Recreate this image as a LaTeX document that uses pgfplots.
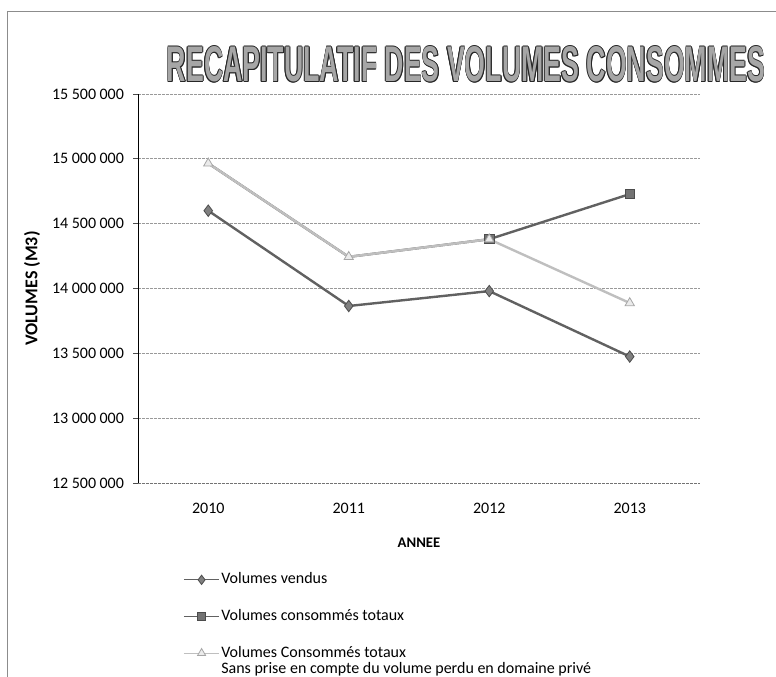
\documentclass[border=0pt]{standalone}
\usepackage{pgfplots}
\pgfplotsset{compat=1.18}
\usepackage{fontspec}
\setmainfont{Carlito}
\newfontfamily\titlefont{Liberation Sans}
\newcommand{\titletext}{\resizebox{448.5pt}{26.25pt}{\titlefont\bfseries RECAPITULATIF DES VOLUMES CONSOMMES}}
\begin{document}
\begin{tikzpicture}
\path[use as bounding box] (0,0) rectangle (582pt,507.75pt);
\draw[black!45, line width=0.6pt] (5.25pt,0) -- (5.25pt,499.5pt) -- (582pt,499.5pt);
\foreach \dx/\dy in {0.6/0,-0.6/0,0/0.6,0/-0.6,0.45/0.45,-0.45/0.45,0.45/-0.45,-0.45/-0.45}{
  \node[inner sep=0pt, text=black!85] at (349.5pt+\dx pt,459.4pt+\dy pt) {\titletext};
}
\node[inner sep=0pt, text=black!35] at (349.5pt,459.4pt) {\titletext};
\begin{axis}[
  at={(103.5pt,145.5pt)}, anchor=south west,
  scale only axis, width=421.5pt, height=291.75pt,
  xmin=-0.5, xmax=3.5, ymin=12500000, ymax=15500000,
  axis x line*=bottom, axis y line*=left,
  x axis line style={black!55, dash pattern=on 2pt off 1pt, line width=0.5pt, -},
  y axis line style={black, line width=0.6pt, -},
  xtick={0,1,2,3}, xticklabels={2010,2011,2012,2013},
  minor xtick={-0.5,0.5,1.5,2.5,3.5},
  xtick style={draw=none},
  minor x tick style={black!70, line width=0.5pt},
  minor tick length=3.5pt,
  ytick={12500000,13000000,13500000,14000000,14500000,15000000,15500000},
  ytick style={black!70, line width=0.5pt},
  major tick length=3.5pt,
  tick align=outside,
  ymajorgrids,
  major grid style={black!40, dash pattern=on 2pt off 1pt, line width=0.5pt},
  scaled y ticks=false,
  /pgf/number format/assume math mode=true,
  yticklabel style={/pgf/number format/.cd, fixed, precision=0, 1000 sep={\kern0.22em}, /tikz/.cd, xshift=-3.5pt},
  ticklabel style={font=\fontsize{12}{14}\selectfont},
  xticklabel style={yshift=-8pt},
  xlabel={\textbf{ANNEE}},
  ylabel={\textbf{VOLUMES (M3)}},
  xlabel style={at={(axis description cs:0.5,-0.154)}, anchor=center, font=\fontsize{11}{13}\selectfont},
  ylabel style={at={(axis description cs:-0.1886,0.5)}, anchor=center, rotate=0, font=\fontsize{13.5}{15}\selectfont},
  legend cell align=left,
  legend style={at={(axis description cs:0.08,-0.226)}, anchor=north west, draw=none, fill=none,
    inner sep=0pt, row sep=14.5pt,
    font=\fontsize{12}{14}\selectfont,
    nodes={text height=8.5pt, text depth=2.5pt, inner sep=1pt}},
  legend image code/.code={\draw[mark repeat=2,mark phase=2,#1] plot coordinates {(0cm,0cm) (0.47cm,0cm) (0.94cm,0cm)};},
]
\addplot[color=black!62, line width=1.8pt, mark=diamond*, mark size=4.3pt,
  mark options={fill=black!50, draw=black!70, line width=0.6pt},
  legend image post style={line width=0.8pt, mark size=3.5pt}]
  coordinates {(0,14600000) (1,13865000) (2,13980000) (3,13475000)};
\addlegendentry{Volumes vendus}
\addplot[color=black!62, line width=1.8pt, mark=square*, mark size=3.5pt,
  mark options={fill=black!55, draw=black!70, line width=0.6pt},
  mark indices={3,4},
  legend image post style={line width=0.8pt, mark size=3pt, mark indices={2}}]
  coordinates {(0,14965000) (1,14244000) (2,14380000) (3,14728000)};
\addlegendentry{Volumes consommés totaux}
\addplot[color=black!25, line width=1.8pt, mark=triangle*, mark size=4pt,
  mark options={fill=black!8, draw=black!35, line width=0.6pt},
  legend image post style={line width=0.8pt, mark size=3.5pt}]
  coordinates {(0,14965000) (1,14244000) (2,14380000) (3,13888000)};
\addlegendentry{\renewcommand{\arraystretch}{0.86}\begin{tabular}[t]{@{}l@{}}Volumes Consommés totaux\\Sans prise en compte du volume perdu en domaine privé\end{tabular}}
\end{axis}
\end{tikzpicture}
\end{document}
